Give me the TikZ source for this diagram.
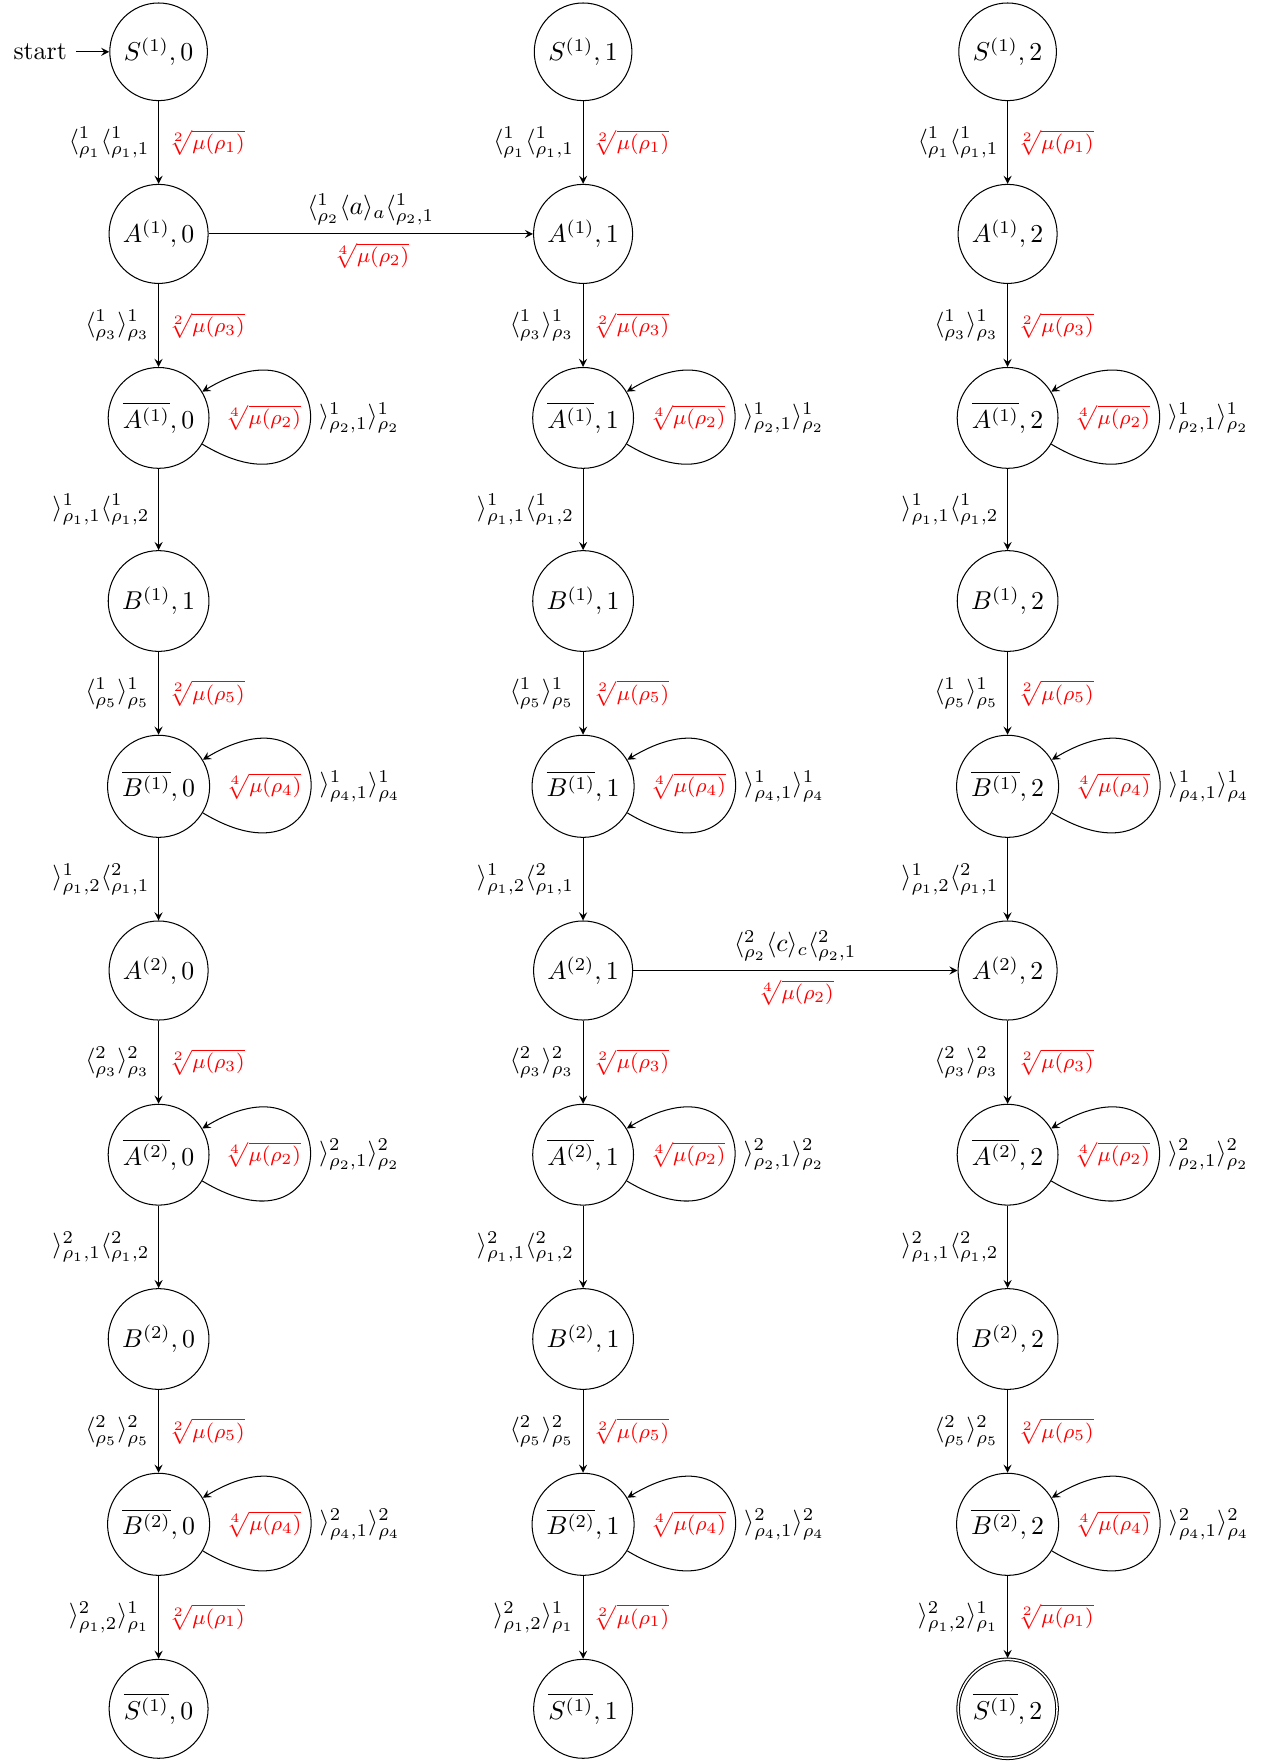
\documentclass[tikz,border=0pt]{standalone}
\usepackage{amsmath}
\usepackage{exscale}
\usetikzlibrary{automata}
\begin{document}
\begin{tikzpicture}[x=0.3876pt,y=0.3876pt,>=stealth,
  rl/.style={text=red,font=\footnotesize},
  selfloop/.style={out=-31,in=31,distance=65pt}]
\useasboundingbox (0,0) rectangle (1275,-1762);
% top and bottom rows
\node[state,initial,initial text=start] (S1-0) at (158.6,-51.8) {$S^{(1)},0$};
\node[state] (S1-1) at (583.1,-51.8) {$S^{(1)},1$};
\node[state] (S1-2) at (1007.6,-51.8) {$S^{(1)},2$};
\node[state] (S1b-0) at (158.6,-1708.8) {$\overline{S^{(1)}},0$};
\node[state] (S1b-1) at (583.1,-1708.8) {$\overline{S^{(1)}},1$};
\node[state,accepting] (S1b-2) at (1007.6,-1708.8) {$\overline{S^{(1)}},2$};
% middle rows
\foreach \c/\bb in {0/1,1/1,2/2}{
  \pgfmathsetmacro\xx{158.6+424.5*\c}
  \node[state] (A1-\c)  at (\xx,-233.9)  {$A^{(1)},\c$};
  \node[state] (A1b-\c) at (\xx,-417.9)  {$\overline{A^{(1)}},\c$};
  \node[state] (B1-\c)  at (\xx,-601.0)  {$B^{(1)},\bb$};
  \node[state] (B1b-\c) at (\xx,-786.3)  {$\overline{B^{(1)}},\c$};
  \node[state] (A2-\c)  at (\xx,-970.5)  {$A^{(2)},\c$};
  \node[state] (A2b-\c) at (\xx,-1154.7) {$\overline{A^{(2)}},\c$};
  \node[state] (B2-\c)  at (\xx,-1339.0) {$B^{(2)},\c$};
  \node[state] (B2b-\c) at (\xx,-1524.3) {$\overline{B^{(2)}},\c$};
}
% vertical transitions and loops
\foreach \c in {0,1,2}{
  \draw[->] (S1-\c) -- node[left]{$\langle^1_{\rho_1}\langle^1_{\rho_1,1}$} node[right,rl]{$\sqrt[2]{\mu(\rho_1)}$} (A1-\c);
  \draw[->] (A1-\c) -- node[left]{$\langle^1_{\rho_3}\rangle^1_{\rho_3}$} node[right,rl]{$\sqrt[2]{\mu(\rho_3)}$} (A1b-\c);
  \draw[->] (A1b-\c) to[selfloop] node[left,rl]{$\sqrt[4]{\mu(\rho_2)}$} node[right]{$\rangle^1_{\rho_2,1}\rangle^1_{\rho_2}$} (A1b-\c);
  \draw[->] (A1b-\c) -- node[left]{$\rangle^1_{\rho_1,1}\langle^1_{\rho_1,2}$} (B1-\c);
  \draw[->] (B1-\c) -- node[left]{$\langle^1_{\rho_5}\rangle^1_{\rho_5}$} node[right,rl]{$\sqrt[2]{\mu(\rho_5)}$} (B1b-\c);
  \draw[->] (B1b-\c) to[selfloop] node[left,rl]{$\sqrt[4]{\mu(\rho_4)}$} node[right]{$\rangle^1_{\rho_4,1}\rangle^1_{\rho_4}$} (B1b-\c);
  \draw[->] (B1b-\c) -- node[left]{$\rangle^1_{\rho_1,2}\langle^2_{\rho_1,1}$} (A2-\c);
  \draw[->] (A2-\c) -- node[left]{$\langle^2_{\rho_3}\rangle^2_{\rho_3}$} node[right,rl]{$\sqrt[2]{\mu(\rho_3)}$} (A2b-\c);
  \draw[->] (A2b-\c) to[selfloop] node[left,rl]{$\sqrt[4]{\mu(\rho_2)}$} node[right]{$\rangle^2_{\rho_2,1}\rangle^2_{\rho_2}$} (A2b-\c);
  \draw[->] (A2b-\c) -- node[left]{$\rangle^2_{\rho_1,1}\langle^2_{\rho_1,2}$} (B2-\c);
  \draw[->] (B2-\c) -- node[left]{$\langle^2_{\rho_5}\rangle^2_{\rho_5}$} node[right,rl]{$\sqrt[2]{\mu(\rho_5)}$} (B2b-\c);
  \draw[->] (B2b-\c) to[selfloop] node[left,rl]{$\sqrt[4]{\mu(\rho_4)}$} node[right]{$\rangle^2_{\rho_4,1}\rangle^2_{\rho_4}$} (B2b-\c);
  \draw[->] (B2b-\c) -- node[left]{$\rangle^2_{\rho_1,2}\rangle^1_{\rho_1}$} node[right,rl]{$\sqrt[2]{\mu(\rho_1)}$} (S1b-\c);
}
% horizontal transitions
\draw[->] (A1-0) -- node[above]{$\langle^1_{\rho_2}\langle a\rangle_a\langle^1_{\rho_2,1}$} node[below,rl]{$\sqrt[4]{\mu(\rho_2)}$} (A1-1);
\draw[->] (A2-1) -- node[above]{$\langle^2_{\rho_2}\langle c\rangle_c\langle^2_{\rho_2,1}$} node[below,rl]{$\sqrt[4]{\mu(\rho_2)}$} (A2-2);
\end{tikzpicture}
\end{document}
